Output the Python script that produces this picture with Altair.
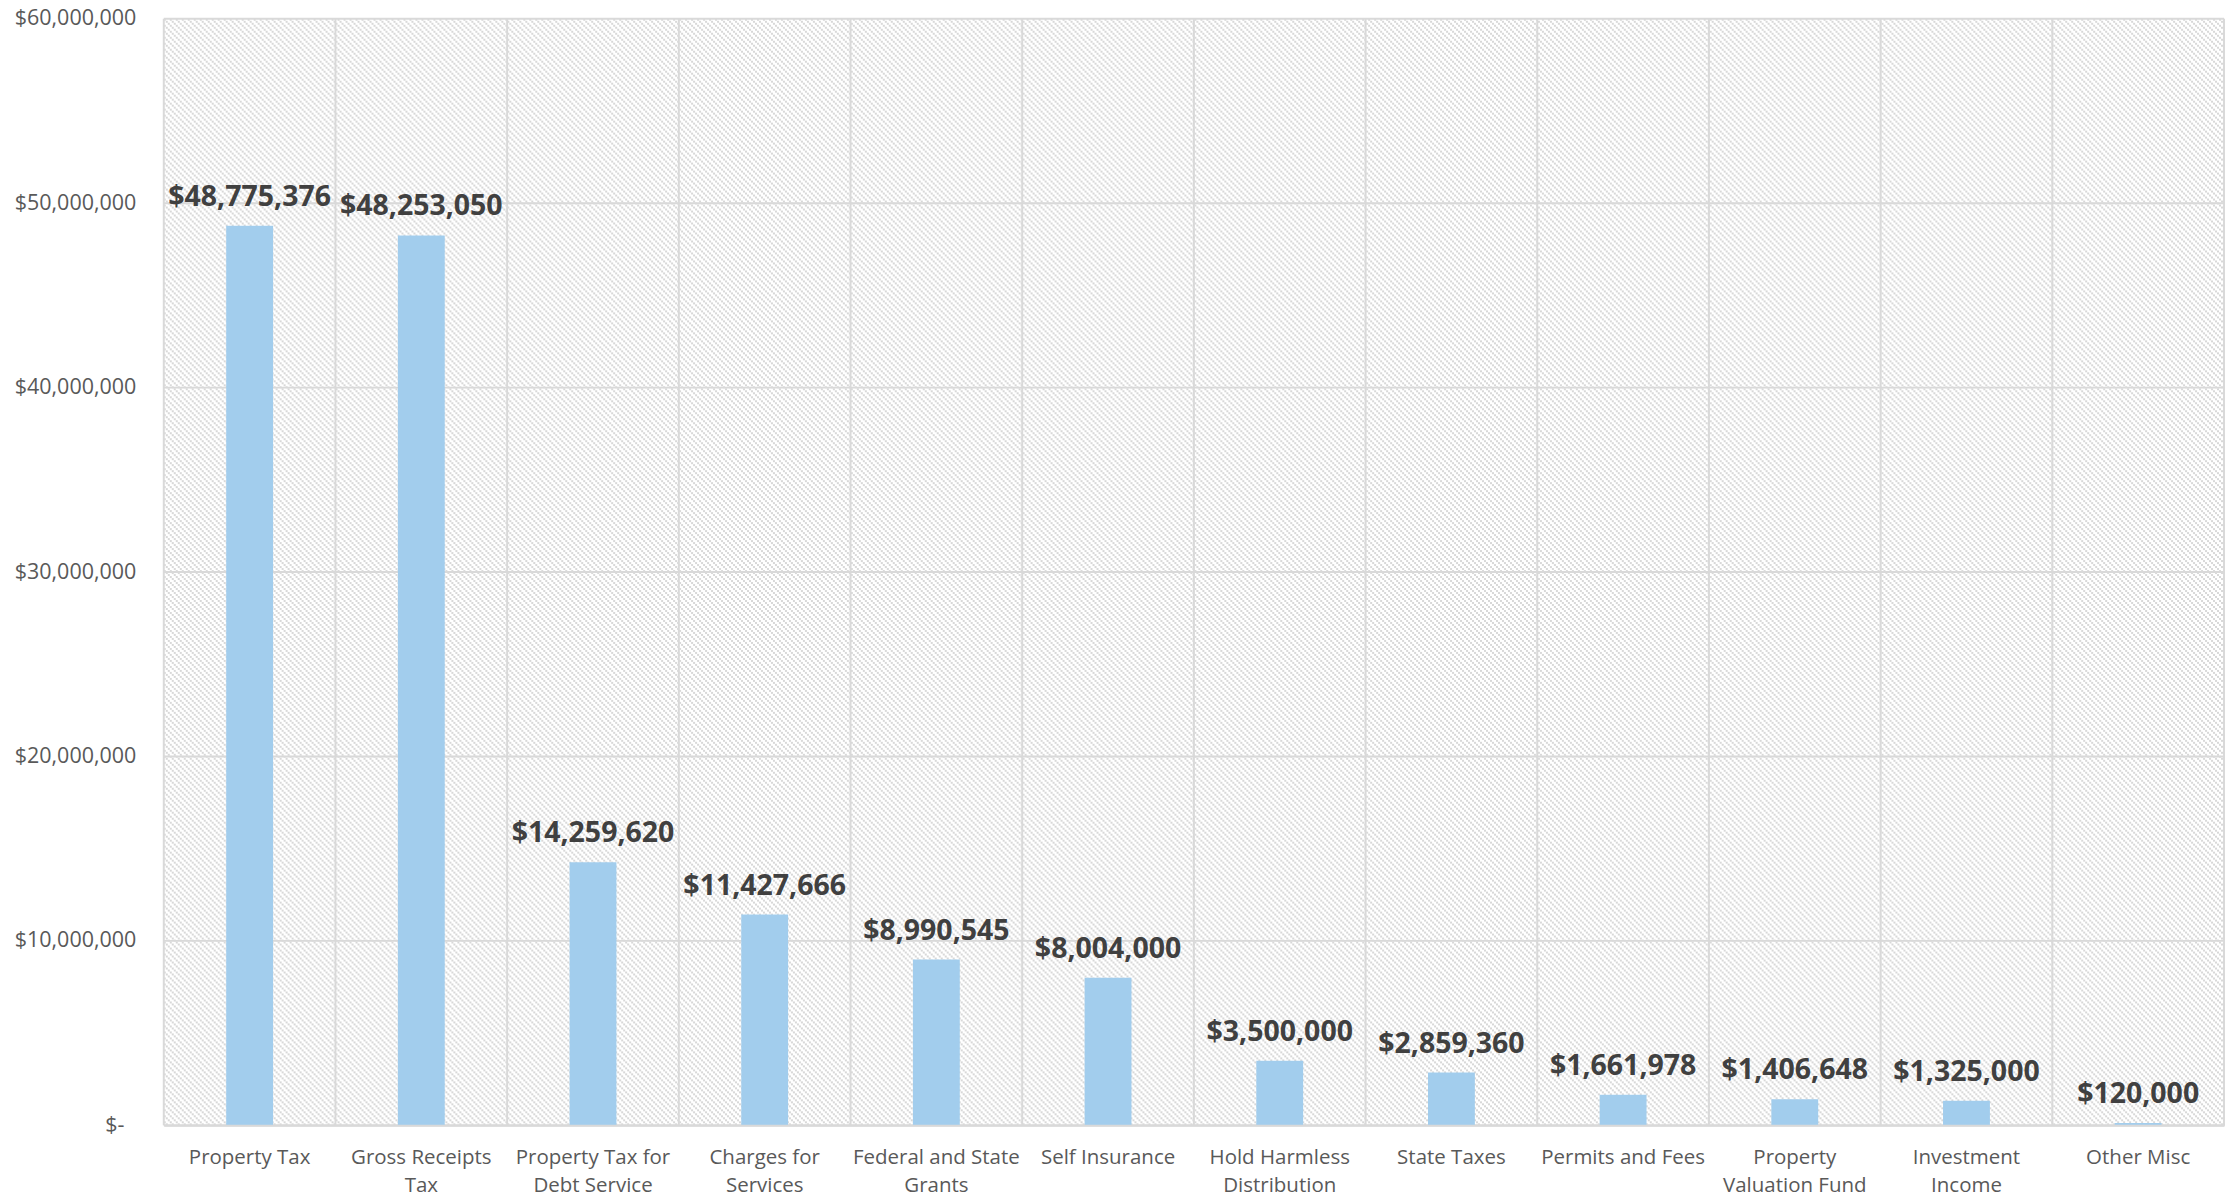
import base64
import altair as alt
import pandas as pd

categories = [
    "Property Tax", "Gross Receipts Tax", "Property Tax for Debt Service",
    "Charges for Services", "Federal and State Grants", "Self Insurance",
    "Hold Harmless Distribution", "State Taxes", "Permits and Fees",
    "Property Valuation Fund", "Investment Income", "Other Misc",
]
values = [48775376, 48253050, 14259620, 11427666, 8990545, 8004000,
          3500000, 2859360, 1661978, 1406648, 1325000, 120000]
label_lines = [
    ["Property Tax"], ["Gross Receipts", "Tax"], ["Property Tax for", "Debt Service"],
    ["Charges for", "Services"], ["Federal and State", "Grants"], ["Self Insurance"],
    ["Hold Harmless", "Distribution"], ["State Taxes"], ["Permits and Fees"],
    ["Property", "Valuation Fund"], ["Investment", "Income"], ["Other Misc"],
]
y_ticks = [0, 10000000, 20000000, 30000000, 40000000, 50000000, 60000000]

W, H = 2063, 1108
FONT = "Open Sans"
GRID = "#D9D9D9"

df = pd.DataFrame({"category": categories, "value": values})

# label expression for wrapped category labels
expr = "datum.label"
for cat, lines in reversed(list(zip(categories, label_lines))):
    arr = "[" + ",".join("'" + l + "'" for l in lines) + "]"
    expr = f"datum.label == '{cat}' ? {arr} : ({expr})"

# diagonal hatch texture (background style only), as an SVG pattern image
hc = "#D8D8D8"
svg = (
    f'<svg xmlns="http://www.w3.org/2000/svg" width="{W}" height="{H}" '
    f'viewBox="0 0 {W} {H}" shape-rendering="crispEdges">'
    '<defs><pattern id="h" width="6" height="6" patternUnits="userSpaceOnUse">'
    f'<rect x="0" y="0" width="2" height="2" fill="{hc}"/>'
    f'<rect x="2" y="2" width="2" height="2" fill="{hc}"/>'
    f'<rect x="4" y="4" width="2" height="2" fill="{hc}"/>'
    '</pattern></defs>'
    f'<rect width="{W}" height="{H}" fill="#FFFFFF"/>'
    f'<rect width="{W}" height="{H}" fill="url(#h)"/></svg>'
)
hatch_url = "data:image/svg+xml;base64," + base64.b64encode(svg.encode()).decode()

x_enc = alt.X("category:N", sort=categories,
              scale=alt.Scale(paddingInner=0, paddingOuter=0),
              axis=alt.Axis(title=None, labelExpr=expr, labelAngle=0, labelAlign="center",
                            labelFont=FONT, labelFontSize=20.5, labelColor="#595959",
                            labelLineHeight=28.5, labelPadding=32, ticks=False, tickSize=0,
                            grid=False, domain=True, domainColor=GRID, domainWidth=2,
                            zindex=1, labelLimit=400))
y_scale = alt.Scale(domain=[0, 60000000], nice=False)

bg = alt.Chart(pd.DataFrame({"bg": [0]})).mark_image(
    width=W, height=H, align="left", baseline="top", aspect=False
).encode(x=alt.value(0), y=alt.value(0), url=alt.value(hatch_url))

hgrid = alt.Chart(pd.DataFrame({"tick": y_ticks})).mark_rule(
    color=GRID, strokeWidth=2
).encode(y=alt.Y("tick:Q", scale=y_scale))

vgrid = alt.Chart(df).mark_rule(color=GRID, strokeWidth=2).encode(
    x=alt.X("category:N", sort=categories, bandPosition=0)
)
right_edge = alt.Chart(pd.DataFrame({"e": [0]})).mark_rule(
    color=GRID, strokeWidth=2
).encode(x=alt.value("width"))

bars = alt.Chart(df).mark_bar(
    color="#A2CDED", width=alt.RelativeBandSize(0.273)
).encode(
    x=x_enc,
    y=alt.Y("value:Q", scale=y_scale,
            axis=alt.Axis(title=None, values=y_ticks,
                          labelExpr="datum.value == 0 ? '$-' : format(datum.value, '$,')",
                          labelFont=FONT, labelFontSize=21.5, labelColor="#595959",
                          labelPadding={"condition": {"test": "datum.value == 0", "value": 40},
                                        "value": 28},
                          ticks=False, tickSize=0, grid=False, domain=False)),
)

texts = alt.Chart(df).mark_text(
    font=FONT, fontSize=28.5, fontWeight="bold", color="#404040",
    baseline="alphabetic", dy=-20
).encode(
    x=alt.X("category:N", sort=categories),
    y=alt.Y("value:Q", scale=y_scale),
    text=alt.Text("value:Q", format="$,"),
)

chart = alt.layer(bg, hgrid, vgrid, right_edge, bars, texts).properties(
    width=W, height=H,
    autosize=alt.AutoSizeParams(type="none"),
    padding={"left": 156, "top": 10, "right": 2, "bottom": 72},
).configure_view(stroke=None).configure(background="#FFFFFF")

chart.save("out.html", embed_options={"renderer": "svg", "actions": False})
